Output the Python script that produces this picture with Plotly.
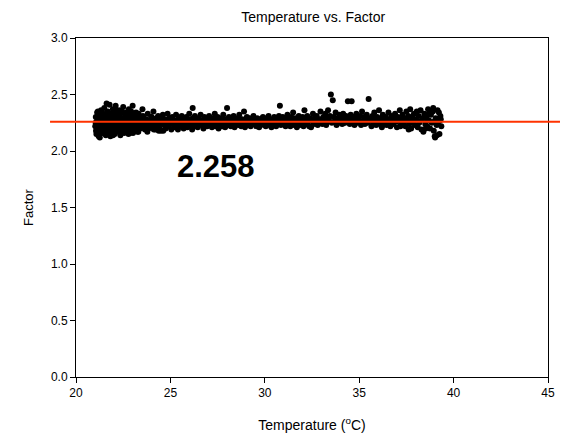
import plotly.graph_objects as go

# ---------------- data ----------------
temperature = [
    21.02,21.05,21.08,21.10,21.12,21.15,21.18,21.20,21.22,21.25,21.28,21.30,
    21.33,21.35,21.38,21.40,21.42,21.45,21.48,21.50,21.52,21.55,21.58,21.60,
    21.62,21.65,21.68,21.70,21.72,21.75,21.78,21.80,21.82,21.85,21.88,21.90,
    21.92,21.95,21.98,22.00,22.02,22.05,22.08,22.10,22.12,22.15,22.18,22.20,
    22.22,22.25,22.28,22.30,22.32,22.35,22.38,22.40,22.42,22.45,22.48,22.50,
    22.52,22.55,22.58,22.60,22.62,22.65,22.68,22.70,22.72,22.75,22.78,22.80,
    22.82,22.85,22.88,22.90,22.92,22.95,22.98,23.00,23.02,23.05,23.08,23.10,
    23.12,23.15,23.18,23.20,23.22,23.25,23.28,23.30,23.32,23.35,23.38,23.40,
    21.04,21.14,21.24,21.34,21.44,21.54,21.64,21.74,21.84,21.94,22.04,22.14,
    22.24,22.34,22.44,22.54,22.64,22.74,22.84,22.94,23.04,23.14,23.24,23.34,
    21.06,21.16,21.26,21.36,21.46,21.56,21.66,21.76,21.86,21.96,22.06,22.16,
    22.26,22.36,22.46,22.56,22.66,22.76,22.86,22.96,23.06,23.16,23.26,23.36,
    23.45,23.50,23.55,23.60,23.65,23.70,23.75,23.80,23.85,23.90,23.95,24.00,
    24.05,24.10,24.15,24.20,24.25,24.30,24.35,24.40,24.45,24.50,24.55,24.60,
    24.65,24.70,24.75,24.80,24.85,24.90,24.95,25.00,25.05,25.10,25.15,25.20,
    25.25,25.30,25.35,25.40,25.45,25.50,25.55,25.60,25.65,25.70,25.75,25.80,
    25.85,25.90,25.95,26.00,26.05,26.10,26.15,26.20,26.25,26.30,26.35,26.40,
    23.48,23.68,23.88,24.08,24.28,24.48,24.68,24.88,25.08,25.28,25.48,25.68,
    25.88,26.08,26.28,26.48,23.58,23.78,23.98,24.18,24.38,24.58,24.78,24.98,
    23.52,26.18,24.12,24.62,
    26.45,26.50,26.55,26.60,26.65,26.70,26.75,26.80,26.85,26.90,26.95,27.00,
    27.05,27.10,27.15,27.20,27.25,27.30,27.35,27.40,27.45,27.50,27.55,27.60,
    27.65,27.70,27.75,27.80,27.85,27.90,27.95,28.00,28.05,28.10,28.15,28.20,
    28.25,28.30,28.35,28.40,28.45,28.50,28.55,28.60,28.65,28.70,28.75,28.80,
    28.85,28.90,28.95,29.00,29.05,29.10,29.15,29.20,29.25,29.30,29.35,29.40,
    29.45,29.50,29.55,29.60,29.65,29.70,29.75,29.80,29.85,29.90,29.95,30.00,
    30.05,30.10,30.15,30.20,30.25,30.30,30.35,30.40,30.45,30.50,30.55,30.60,
    30.65,30.70,30.75,30.80,30.85,30.90,30.95,31.00,31.05,31.10,31.15,31.20,
    31.25,31.30,31.35,31.40,31.45,31.50,31.55,31.60,31.65,31.70,31.75,31.80,
    31.85,31.90,31.95,32.00,32.05,32.10,32.15,32.20,32.25,32.30,32.35,32.40,
    32.45,32.50,32.55,32.60,32.65,32.70,32.75,32.80,32.85,32.90,32.95,33.00,
    33.05,33.10,33.15,33.20,33.25,33.30,33.35,33.40,33.45,33.50,33.55,33.60,
    33.65,33.70,33.75,33.80,33.85,33.90,33.95,34.00,34.05,34.10,34.15,34.20,
    34.25,34.30,34.35,34.40,34.45,34.50,34.55,34.60,34.65,34.70,34.75,34.80,
    34.85,34.90,34.95,35.00,35.05,35.10,35.15,35.20,35.25,35.30,35.35,35.40,
    35.45,35.50,35.55,
    35.60,35.65,35.70,35.75,35.80,35.85,35.90,35.95,36.00,36.05,36.10,36.15,
    36.20,36.25,36.30,36.35,36.40,36.45,36.50,36.55,36.60,36.65,36.70,36.75,
    36.80,36.85,36.90,36.95,37.00,37.05,37.10,37.15,37.20,37.25,37.30,37.35,
    37.40,37.45,37.50,37.55,37.60,37.65,37.70,37.75,37.80,37.85,37.90,37.95,
    38.00,38.05,38.10,38.15,38.20,38.25,38.30,38.35,38.40,38.45,38.50,38.55,
    38.60,38.65,38.70,38.75,38.80,38.85,38.90,38.95,39.00,39.05,39.10,39.15,
    39.20,39.25,39.30,39.35,38.72,38.92,39.12,39.32,38.52,39.02,39.22,37.62,
    26.58,26.98,27.38,27.78,28.18,28.58,28.98,29.38,29.78,30.18,30.58,30.98,
    31.38,31.78,32.18,32.58,32.98,33.38,33.78,34.18,34.58,34.98,35.38,35.78,
    36.18,36.58,36.98,37.38,37.78,38.18,38.58,38.98,39.28,36.38,36.78,37.18,
]

factor = [
    2.22,2.30,2.15,2.26,2.34,2.19,2.28,2.13,2.24,2.32,2.17,2.27,
    2.36,2.21,2.29,2.16,2.25,2.33,2.19,2.38,2.23,2.31,2.14,2.27,
    2.42,2.20,2.35,2.24,2.17,2.30,2.41,2.26,2.13,2.33,2.22,2.18,
    2.29,2.37,2.21,2.25,2.32,2.15,2.27,2.40,2.19,2.34,2.23,2.30,
    2.17,2.26,2.36,2.21,2.31,2.14,2.28,2.24,2.35,2.19,2.29,2.39,
    2.22,2.16,2.33,2.26,2.20,2.30,2.18,2.34,2.25,2.28,2.15,2.37,
    2.23,2.31,2.19,2.27,2.35,2.21,2.29,2.40,2.16,2.25,2.32,2.20,
    2.28,2.18,2.34,2.24,2.30,2.21,2.27,2.17,2.33,2.25,2.29,2.20,
    2.25,2.20,2.31,2.23,2.28,2.18,2.26,2.22,2.29,2.24,2.20,2.27,
    2.23,2.27,2.21,2.28,2.24,2.20,2.26,2.23,2.29,2.22,2.25,2.27,
    2.18,2.35,2.12,2.30,2.21,2.26,2.16,2.32,2.19,2.14,2.36,2.22,
    2.32,2.17,2.25,2.19,2.34,2.28,2.16,2.31,2.22,2.26,2.17,2.23,
    2.26,2.21,2.31,2.24,2.19,2.28,2.23,2.33,2.20,2.27,2.25,2.30,
    2.22,2.35,2.26,2.19,2.29,2.24,2.31,2.21,2.27,2.18,2.25,2.32,
    2.23,2.28,2.20,2.26,2.33,2.22,2.29,2.24,2.19,2.30,2.26,2.21,
    2.27,2.32,2.23,2.19,2.29,2.25,2.22,2.31,2.26,2.20,2.28,2.24,
    2.30,2.21,2.27,2.33,2.23,2.26,2.19,2.29,2.24,2.31,2.22,2.27,
    2.24,2.26,2.22,2.27,2.23,2.26,2.24,2.27,2.25,2.22,2.27,2.24,
    2.25,2.28,2.23,2.26,2.29,2.17,2.30,2.23,2.18,2.28,2.21,2.27,
    2.37,2.38,2.19,2.18,
    2.21,2.29,2.25,2.32,2.23,2.27,2.20,2.30,2.24,2.28,2.22,2.26,
    2.31,2.23,2.27,2.21,2.29,2.25,2.33,2.22,2.26,2.30,2.20,2.27,
    2.24,2.29,2.22,2.32,2.25,2.21,2.28,2.38,2.23,2.30,2.26,2.22,
    2.28,2.24,2.31,2.21,2.27,2.25,2.29,2.23,2.32,2.26,2.22,2.28,
    2.24,2.35,2.21,2.27,2.30,2.23,2.26,2.29,2.22,2.28,2.25,2.31,
    2.24,2.27,2.22,2.29,2.25,2.21,2.28,2.23,2.26,2.30,2.24,2.27,
    2.22,2.29,2.25,2.31,2.23,2.27,2.21,2.28,2.24,2.30,2.26,2.22,
    2.28,2.25,2.31,2.40,2.23,2.27,2.30,2.24,2.29,2.22,2.26,2.32,
    2.24,2.28,2.22,2.30,2.26,2.34,2.23,2.29,2.25,2.21,2.28,2.31,
    2.23,2.27,2.25,2.30,2.22,2.36,2.28,2.24,2.31,2.26,2.22,2.29,
    2.21,2.27,2.33,2.24,2.29,2.26,2.31,2.23,2.28,2.25,2.35,2.27,
    2.24,2.30,2.26,2.33,2.23,2.29,2.36,2.27,2.31,2.50,2.25,2.45,
    2.30,2.26,2.34,2.23,2.29,2.27,2.32,2.25,2.30,2.24,2.33,2.28,
    2.25,2.31,2.27,2.44,2.29,2.24,2.32,2.44,2.26,2.30,2.23,2.28,
    2.33,2.25,2.29,2.27,2.31,2.23,2.35,2.26,2.30,2.24,2.28,2.32,
    2.25,2.46,2.29,
    2.27,2.22,2.31,2.25,2.34,2.28,2.23,2.30,2.26,2.36,2.24,2.29,
    2.21,2.32,2.27,2.25,2.30,2.23,2.28,2.34,2.26,2.22,2.31,2.27,
    2.24,2.29,2.33,2.26,2.21,2.30,2.27,2.36,2.23,2.28,2.32,2.25,
    2.29,2.22,2.35,2.27,2.31,2.24,2.37,2.20,2.30,2.26,2.33,2.23,
    2.28,2.35,2.21,2.31,2.26,2.36,2.19,2.29,2.17,2.33,2.24,2.30,
    2.22,2.37,2.27,2.20,2.32,2.25,2.35,2.18,2.13,2.29,2.23,2.36,
    2.26,2.15,2.31,2.22,2.33,2.38,2.14,2.28,2.20,2.12,2.34,2.19,
    2.26,2.24,2.27,2.25,2.26,2.24,2.27,2.25,2.26,2.24,2.27,2.25,
    2.26,2.24,2.27,2.25,2.28,2.26,2.27,2.25,2.28,2.26,2.27,2.25,
    2.27,2.25,2.28,2.26,2.27,2.25,2.28,2.26,2.27,2.24,2.29,2.22,
]

mean_factor = 2.258
x_ticks = [20, 25, 30, 35, 40, 45]
y_ticks = [0.0, 0.5, 1.0, 1.5, 2.0, 2.5, 3.0]
x_range = [20, 45]
y_range = [0.0, 3.0]

FONT = "Liberation Sans, Arial, sans-serif"

fig = go.Figure()
fig.add_trace(go.Scatter(
    x=temperature, y=factor, mode="markers",
    marker=dict(color="black", size=6, line=dict(width=0)),
    showlegend=False, hoverinfo="x+y",
))

# horizontal mean line (extends slightly outside the axes like the original)
y_frac = (mean_factor - y_range[0]) / (y_range[1] - y_range[0])
fig.add_shape(type="line", xref="paper", yref="paper",
              x0=-0.055, x1=1.06, y0=y_frac, y1=y_frac,
              line=dict(color="#FF3300", width=2), layer="above")

fig.add_annotation(x=27.44, y=1.86, xref="x", yref="y",
                   text=f"<b>{mean_factor:.3f}</b>", showarrow=False,
                   font=dict(family=FONT, size=31, color="black"))

axis_common = dict(showgrid=False, zeroline=False, showline=True,
                   linecolor="black", linewidth=1, mirror=True,
                   ticks="outside", ticklen=5, tickcolor="black", tickwidth=1,
                   automargin=False,
                   tickfont=dict(family=FONT, size=12, color="black"))

fig.update_xaxes(range=x_range, tickvals=x_ticks,
                 ticktext=[str(v) for v in x_ticks],
                 title=dict(text="Temperature (<sup>o</sup>C)",
                            font=dict(family=FONT, size=14, color="black"),
                            standoff=20),
                 **axis_common)
fig.update_yaxes(range=y_range, tickvals=y_ticks,
                 ticktext=[f"{v:.1f}" for v in y_ticks],
                 title=dict(text="Factor",
                            font=dict(family=FONT, size=13, color="black"),
                            standoff=14),
                 **axis_common)

fig.update_layout(
    width=560, height=432,
    margin=dict(l=68, r=20, t=30, b=63),
    paper_bgcolor="white", plot_bgcolor="white",
    title=dict(text="Temperature vs. Factor", x=0.545, xanchor="center",
               y=0.98, yanchor="middle",
               font=dict(family=FONT, size=14, color="black")),
    font=dict(family=FONT),
)

fig.write_html("out.html")
